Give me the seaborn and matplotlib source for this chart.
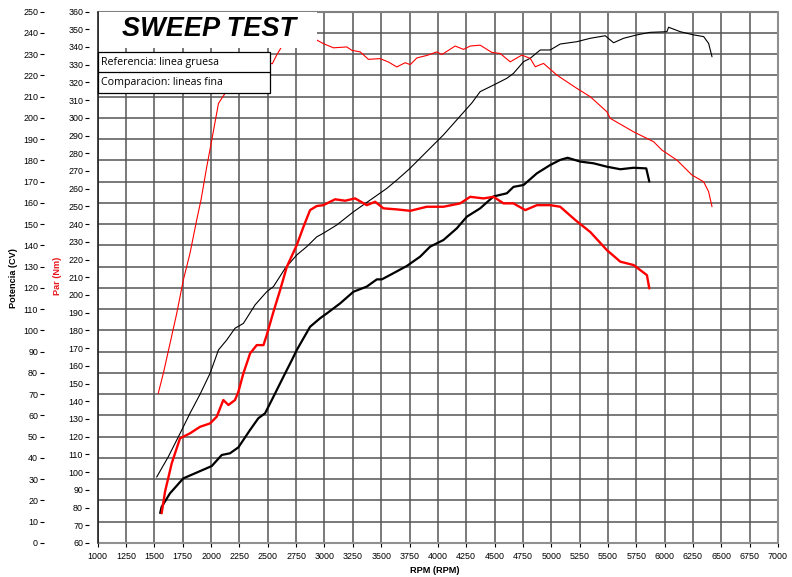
import matplotlib
matplotlib.use("Agg")
import matplotlib.pyplot as plt
from matplotlib.patches import Rectangle
from matplotlib.lines import Line2D
import seaborn as sns
import pandas as pd
import numpy as np

# ---------------- data ----------------
ref_power_rpm = [1551, 1564, 1638, 1755, 1859, 2006, 2094, 2167, 2241, 2344, 2417, 2476, 2550, 2638,
                 2712, 2756, 2873, 2961, 3021, 3138, 3256, 3373, 3462, 3506, 3608, 3726, 3844, 3932,
                 4049, 4167, 4256, 4373, 4491, 4609, 4667, 4756, 4874, 4991, 5079, 5144, 5256, 5373,
                 5491, 5609, 5726, 5838, 5865]
ref_power_cv = [14.1, 17, 23.4, 30.4, 32.8, 36.2, 41.4, 42.2, 45, 53.2, 58.7, 61, 68.8, 78.2,
                86, 90.8, 101.7, 105.7, 108, 112.7, 118.2, 120.6, 124, 124, 126.9, 130.3, 134.7, 139.4,
                142.5, 148, 153.5, 157.4, 163, 164.5, 167.5, 168.4, 173.9, 177.8, 180.2, 181.2, 179.4, 178.6,
                177, 175.8, 176.5, 176.2, 170]

cmp_power_rpm = [1520, 1623, 1726, 1814, 1903, 1991, 2065, 2138, 2211, 2285, 2388, 2491, 2550, 2653,
                 2756, 2844, 2932, 2990, 3109, 3256, 3403, 3550, 3638, 3750, 3900, 4050, 4200, 4300,
                 4373, 4491, 4609, 4667, 4756, 4815, 4903, 4991, 5079, 5226, 5344, 5476, 5550, 5638,
                 5756, 5873, 6020, 6035, 6138, 6255, 6344, 6388, 6418]
cmp_power_cv = [31, 40.6, 51.5, 61, 70, 79.8, 90.8, 95.5, 101, 103.3, 112, 118.2, 120.6, 129.2,
                135.5, 139.4, 144, 145.7, 149.6, 155.8, 161.3, 166.8, 170.7, 176, 184, 192, 201, 207,
                212.3, 215.4, 218.6, 220.9, 226.4, 228, 231.9, 231.9, 234.7, 235.8, 237.4, 238.6, 235.3, 237.4,
                239, 240.2, 240.5, 242.6, 240.5, 239, 238.2, 235, 228.7]

ref_torque_rpm = [1564, 1594, 1653, 1726, 1814, 1903, 1991, 2050, 2108, 2153, 2211, 2241, 2285, 2344,
                  2403, 2462, 2491, 2550, 2609, 2668, 2756, 2815, 2873, 2932, 2990, 3094, 3182, 3270,
                  3373, 3447, 3520, 3638, 3756, 3903, 4050, 4197, 4285, 4403, 4491, 4579, 4667, 4771,
                  4874, 4991, 5079, 5212, 5345, 5491, 5609, 5726, 5844, 5865]
ref_torque_nm = [76.8, 89, 105, 119.1, 121.9, 125.6, 127.5, 131.3, 140.7, 137.9, 140.7, 145.4, 155.8, 167,
                 171.7, 171.7, 177.4, 190.5, 202.8, 215.9, 228.2, 238.5, 247.9, 250.2, 250.7, 254, 253.2, 254.5,
                 250.7, 252.6, 248.9, 248.3, 247.5, 249.8, 249.8, 251.7, 255.4, 254.5, 255.4, 251.7, 251.7, 247.9,
                 250.7, 250.7, 249.8, 242.3, 235.5, 225.3, 218.8, 216.9, 211.2, 203.7]

cmp_torque_rpm = [1534, 1579, 1638, 1697, 1755, 1814, 1873, 1911, 1962, 2006, 2065, 2123, 2250, 2400,
                  2510, 2540, 2575, 2630, 2700, 2800, 2880, 2937, 2990, 3079, 3197, 3241, 3315, 3388,
                  3491, 3564, 3638, 3712, 3756, 3815, 3903, 3991, 4035, 4153, 4227, 4285, 4373, 4476,
                  4550, 4638, 4741, 4815, 4859, 4932, 5050, 5226, 5344, 5491, 5520, 5726, 5903, 5976,
                  6109, 6241, 6344, 6388, 6418]
cmp_torque_nm = [144.5, 155.8, 172.7, 189.6, 208.4, 223.5, 242.3, 253.6, 272.4, 287.4, 308.1, 313.8, 322, 328,
                 331, 330.5, 335, 341, 347, 350, 347, 343.7, 341.9, 339.5, 340, 338.1, 337.2, 333,
                 333.4, 331.5, 328.7, 331.1, 330, 333.8, 335.2, 337.2, 335.7, 340.5, 338.6, 340.5, 341, 336.9,
                 336.3, 331.6, 335.4, 333.5, 328.8, 330.7, 324.1, 316.6, 311.9, 303.4, 299.7, 292.1, 286.5, 281.8,
                 276.1, 267.7, 263.9, 258.3, 249.8]

x_ticks = list(range(1000, 7001, 250))
power_ticks = list(range(0, 251, 10))
torque_ticks = list(range(60, 361, 10))

title_text = "SWEEP TEST"
legend_rows = ["Referencia: linea gruesa", "Comparacion: lineas fina"]

# ---------------- style ----------------
sns.set_style("white")
plt.rcParams['font.family'] = ['Liberation Sans', 'DejaVu Sans']

W, H = 792, 577
fig = plt.figure(figsize=(W / 100, H / 100), dpi=100)

def fx(px):
    return px / W

def fy(py):
    return 1 - py / H

L, R, T, B = 97.7, 778.0, 11.5, 543.0
ax = fig.add_axes([fx(L), fy(B), (R - L) / W, (B - T) / H])
ax2 = ax.twinx()

RED = '#ff0000'

sns.lineplot(x=ref_power_rpm, y=ref_power_cv, ax=ax, color='black', lw=1.6, sort=False, zorder=3)
sns.lineplot(x=cmp_power_rpm, y=cmp_power_cv, ax=ax, color='black', lw=0.8, sort=False, zorder=3)
sns.lineplot(x=ref_torque_rpm, y=ref_torque_nm, ax=ax2, color=RED, lw=1.7, sort=False, zorder=3)
sns.lineplot(x=cmp_torque_rpm, y=cmp_torque_nm, ax=ax2, color=RED, lw=0.8, sort=False, zorder=3)

ax.set_xlim(1000, 7000)
ax.set_ylim(0, 250)
ax2.set_ylim(60, 360)
ax.set_xticks(x_ticks)
ax.set_xticklabels([str(v) for v in x_ticks])
ax.set_yticks(power_ticks)
ax.set_yticklabels([str(v) for v in power_ticks])
ax2.set_yticks(torque_ticks)
ax2.set_yticklabels([str(v) for v in torque_ticks])

ax.grid(True, color='#555555', lw=1.1)
ax.set_axisbelow(True)

# spines
for a in (ax, ax2):
    for s in a.spines.values():
        s.set_visible(False)
ax.spines['left'].set_position(('outward', 38.9))
ax2.yaxis.set_ticks_position('left')
ax2.yaxis.set_label_position('left')
ax2.spines['left'].set_position(('outward', 6.6))
ax2.spines['right'].set_visible(False)

# frame (top, right, bottom gray; left black)
for (xs, ys, c, lw) in [([1000, 7000], [250, 250], '#808080', 1.5),
                        ([7000, 7000], [0, 250], '#909090', 1.5),
                        ([1000, 7000], [0, 0], '#909090', 1.5),
                        ([1000, 1000], [0, 250], '#222222', 1.2)]:
    ax.add_line(Line2D(xs, ys, color=c, lw=lw, zorder=2.5, clip_on=False))

ax.tick_params(axis='y', which='both', direction='out', length=3.2, width=0.8, pad=0.8,
               labelsize=6.4, colors='black', left=True, labelleft=True)
ax2.tick_params(axis='y', which='both', direction='out', length=3.1, width=0.8, pad=0.8,
                labelsize=6.4, colors='black', left=True, labelleft=True, right=False, labelright=False)
ax.tick_params(axis='x', direction='out', length=3.0, width=0.8, pad=3.4, labelsize=6.4,
               colors='black', bottom=True)
ax.set_xlabel("")
ax.set_ylabel("")
ax2.set_ylabel("")

# axis titles
fig.text(fx(14), fy(278), "Potencia (CV)", rotation=90, ha='center', va='center',
         fontsize=6.6, fontweight='bold', color='black')
fig.text(fx(58), fy(276), "Par (Nm)", rotation=90, ha='center', va='center',
         fontsize=6.6, fontweight='bold', color='#e8161d')
fig.text(fx(434.5), fy(570.5), "RPM (RPM)", ha='center', va='center',
         fontsize=6.6, fontweight='bold', color='black')

# title box
fig.add_artist(Rectangle((fx(L + 0.8), fy(48)), (317 - L - 0.8) / W, (48 - 12.5) / H,
                         transform=fig.transFigure, facecolor='white', edgecolor='none', zorder=5))
fig.text(fx(209), fy(29.5), title_text, ha='center', va='center', fontsize=19.5,
         fontweight='bold', fontstyle='italic', color='black', zorder=6)

# legend box
lx0, lx1, ly0, ly1, lmid = L, 270, 51.7, 93, 72.3
fig.add_artist(Rectangle((fx(lx0), fy(ly1)), (lx1 - lx0) / W, (ly1 - ly0) / H,
                         transform=fig.transFigure, facecolor='white', edgecolor='black',
                         lw=0.9, zorder=5))
fig.add_artist(Line2D([fx(lx0), fx(lx1)], [fy(lmid), fy(lmid)], transform=fig.transFigure,
                      color='black', lw=0.9, zorder=6))
fig.text(fx(101), fy(62.3), legend_rows[0], ha='left', va='center', fontsize=7.7,
         family=['Open Sans', 'DejaVu Sans'], color='black', zorder=7)
fig.text(fx(101), fy(82.8), legend_rows[1], ha='left', va='center', fontsize=7.7,
         family=['Open Sans', 'DejaVu Sans'], color='black', zorder=7)

fig.savefig("out.png", dpi=100)
